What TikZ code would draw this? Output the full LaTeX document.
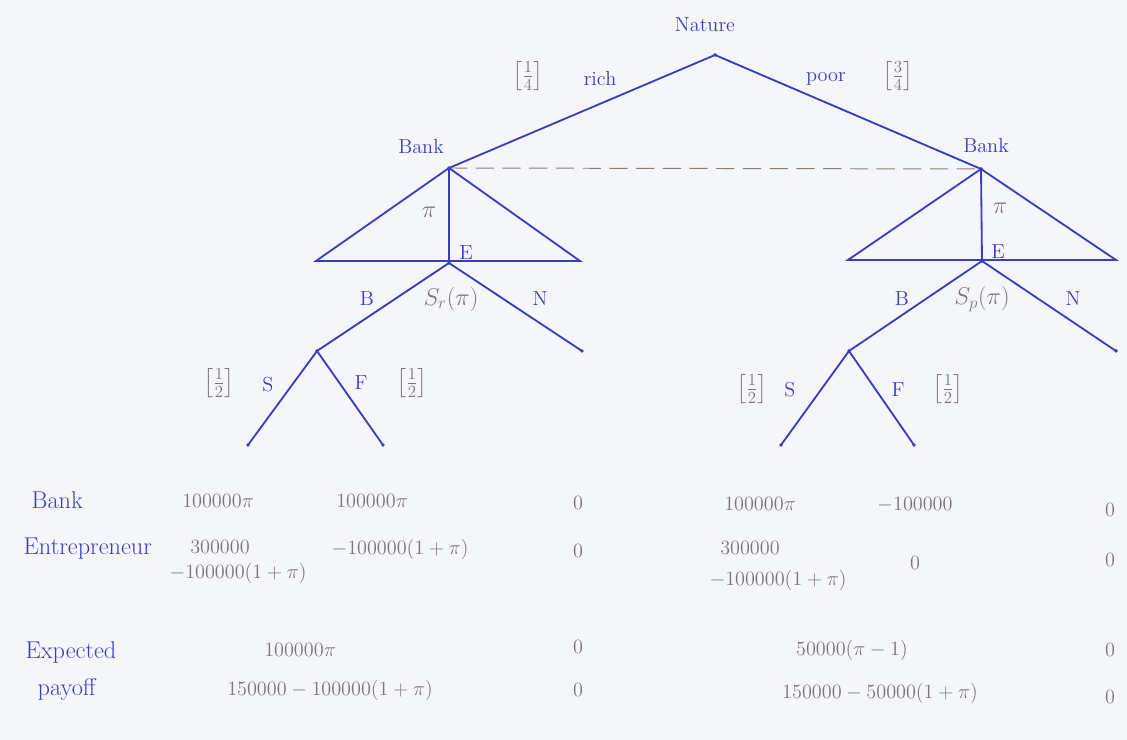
\documentclass[tikz,border=0pt]{standalone}
\usepackage{amsmath, amssymb}
\usepackage{tikz}
\usetikzlibrary{positioning, backgrounds}

\definecolor{ink}{RGB}{58,62,190}
\definecolor{pencil}{RGB}{120,120,124}
\definecolor{dashink}{RGB}{140,125,115}
\definecolor{paper}{RGB}{244,246,250}

\begin{document}
\begin{tikzpicture}[
    x=0.025cm, y=-0.025cm,
    edge/.style={
        ink,
        line width=1.3pt
    },
    infoset/.style={
        dashink,
        dash pattern=on 13pt off 6pt,
        line width=0.7pt
    },
    dot/.style={
        circle,
        fill=ink,
        inner sep=1pt
    },
    player/.style={
        text=ink,
        font=\Large,
        inner sep=1pt
    },
    move/.style={
        text=ink,
        font=\Large,
        inner sep=1pt
    },
    prob/.style={
        text=pencil,
        font=\LARGE,
        inner sep=1pt
    },
    payoff/.style={
        text=pencil,
        font=\Large,
        align=left,
        inner sep=1pt
    },
    rowlabel/.style={
        text=ink,
        font=\LARGE,
        align=left,
        inner sep=1pt
    }
]

% Paper and frame
\useasboundingbox (0,0) rectangle (1127,740);
\fill[paper] (0,0) rectangle (1127,740);

% Nodes of the tree
\coordinate (nat) at (715,55);
\coordinate (bankr) at (449,168);
\coordinate (bankp) at (981,169);
\coordinate (trl) at (316,261);
\coordinate (trr) at (580,261);
\coordinate (er) at (449,263);
\coordinate (tpl) at (848,260);
\coordinate (tpr) at (1116,260);
\coordinate (ep) at (982,261);
\coordinate (br) at (317,351);
\coordinate (nr) at (582,351);
\coordinate (bp) at (849,351);
\coordinate (np) at (1116,351);
\coordinate (sr) at (248,445);
\coordinate (fr) at (383,445);
\coordinate (sp) at (781,445);
\coordinate (fp) at (914,445);

% Nature moves
\draw[edge] (bankr) -- (nat) -- (bankp);
\draw[infoset] (bankr) -- (bankp);

% Bank chooses the rate (rich)
\draw[edge] (trl) -- (bankr) -- (trr) -- cycle;
\draw[edge] (bankr) -- (er);

% Bank chooses the rate (poor)
\draw[edge] (tpl) -- (bankp) -- (tpr) -- cycle;
\draw[edge] (bankp) -- (ep);

% Entrepreneur moves
\draw[edge] (br) -- (er) -- (nr);
\draw[edge] (bp) -- (ep) -- (np);
\draw[edge] (sr) -- (br) -- (fr);
\draw[edge] (sp) -- (bp) -- (fp);

\foreach \p in {nat, bankr, bankp, er, ep, br, bp, nr, np, sr, fr, sp, fp}
    \node[dot] at (\p) {};

% Labels of players and moves
\node[player] (lnat) at (705,25) {Nature};
\node[player] (lbankr) at (421,147) {Bank};
\node[player] (lbankp) at (986,146) {Bank};
\node[prob] (qrich) at (528,76) {$\bigl[\frac{1}{4}\bigr]$};
\node[move] (lrich) at (600,79) {rich};
\node[move] (lpoor) at (826,79) {poor};
\node[prob] (qpoor) at (898,76) {$\bigl[\frac{3}{4}\bigr]$};

\node[prob] (pir) at (429,212) {$\pi$};
\node[move] (ler) at (466,253) {E};
\node[prob] (pip) at (1000,208) {$\pi$};
\node[move] (lep) at (998,252) {E};

\node[move] (lbr) at (367,299) {B};
\node[prob] (lsr) at (451,299) {$S_r(\pi)$};
\node[move] (lnr) at (540,299) {N};
\node[move] (lbp) at (902,299) {B};
\node[prob] (lsp) at (982,299) {$S_p(\pi)$};
\node[move] (lnp) at (1073,299) {N};

\node[prob] (qsr) at (219,383) {$\bigl[\frac{1}{2}\bigr]$};
\node[move] (lsr2) at (268,385) {S};
\node[move] (lfr) at (361,383) {F};
\node[prob] (qfr) at (412,383) {$\bigl[\frac{1}{2}\bigr]$};
\node[prob] (qsp) at (752,389) {$\bigl[\frac{1}{2}\bigr]$};
\node[move] (lsp2) at (790,390) {S};
\node[move] (lfp) at (898,390) {F};
\node[prob] (qfp) at (948,389) {$\bigl[\frac{1}{2}\bigr]$};

% Payoff rows
\node[rowlabel, anchor=west] (rbank) at (30,500) {Bank};
\node[rowlabel, anchor=west] (rentr) at (22,549) {Entrepreneur};
\node[rowlabel, anchor=west] (rexp) at (24,652) {Expected};
\node[rowlabel, anchor=west] (rpay) at (36,689) {payoff};

\node[payoff] (b1) at (218,501) {$100000\pi$};
\node[payoff] (b2) at (372,501) {$100000\pi$};
\node[payoff] (b3) at (578,503) {$0$};
\node[payoff] (b4) at (760,504) {$100000\pi$};
\node[payoff] (b5) at (915,505) {$-100000$};
\node[payoff] (b6) at (1110,510) {$0$};

\node[payoff] (e1) at (220,547) {$300000$};
\node[payoff] (e1b) at (238,573) {$-100000(1+\pi)$};
\node[payoff] (e2) at (400,549) {$-100000(1+\pi)$};
\node[payoff] (e3) at (578,551) {$0$};
\node[payoff] (e4) at (750,548) {$300000$};
\node[payoff] (e4b) at (778,580) {$-100000(1+\pi)$};
\node[payoff] (e5) at (915,563) {$0$};
\node[payoff] (e6) at (1110,560) {$0$};

\node[payoff] (x1) at (300,650) {$100000\pi$};
\node[payoff] (x2) at (578,647) {$0$};
\node[payoff] (x3) at (852,650) {$50000(\pi-1)$};
\node[payoff] (x4) at (1110,650) {$0$};

\node[payoff] (y1) at (330,690) {$150000 - 100000(1+\pi)$};
\node[payoff] (y2) at (578,690) {$0$};
\node[payoff] (y3) at (880,693) {$150000 - 50000(1+\pi)$};
\node[payoff] (y4) at (1110,697) {$0$};

\end{tikzpicture}
\end{document}
